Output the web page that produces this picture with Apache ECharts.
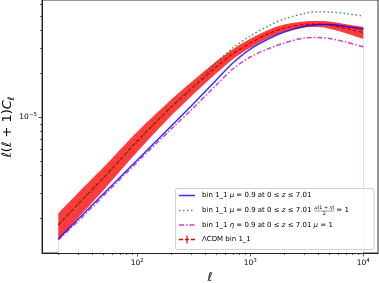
<!DOCTYPE html>
<html><head><meta charset="utf-8">
<script src="https://cdn.jsdelivr.net/npm/echarts@6/dist/echarts.min.js"></script>
<style>html,body{margin:0;padding:0;background:#fff}#c{width:379px;height:283px}</style>
</head><body><div id="c"></div>
<script>
// multipole values
const ell = [20, 30, 50, 100, 200, 300, 500, 700, 1000, 1500, 2000, 3000, 4000, 5000, 7000, 10000];
// bin 1_1 mu = 0.9 (blue)
const clMu = [1.440e-6, 1.979e-6, 2.944e-6, 5.050e-6, 8.667e-6, 1.191e-5, 1.799e-5, 2.357e-5, 2.943e-5, 3.505e-5, 3.855e-5, 4.207e-5, 4.343e-5, 4.343e-5, 4.207e-5, 4.042e-5];
// bin 1_1 mu = 0.9, mu(1+eta)/2 = 1 (green dotted)
const clMuEta = [1.799e-6, 2.511e-6, 3.795e-6, 6.721e-6, 1.172e-5, 1.585e-5, 2.357e-5, 2.990e-5, 3.617e-5, 4.308e-5, 4.739e-5, 5.173e-5, 5.323e-5, 5.296e-5, 5.173e-5, 4.971e-5];
// bin 1_1 eta = 0.9, mu = 1 (magenta dash-dot)
const clEta = [1.417e-6, 1.917e-6, 2.852e-6, 4.892e-6, 8.265e-6, 1.117e-5, 1.662e-5, 2.143e-5, 2.592e-5, 2.990e-5, 3.236e-5, 3.505e-5, 3.533e-5, 3.477e-5, 3.289e-5, 3.053e-5];
// LCDM bin 1_1 (red, with error bars)
const clLcdm = [1.799e-6, 2.511e-6, 3.795e-6, 6.829e-6, 1.172e-5, 1.560e-5, 2.211e-5, 2.719e-5, 3.236e-5, 3.795e-5, 4.107e-5, 4.343e-5, 4.377e-5, 4.308e-5, 4.075e-5, 3.825e-5];
const clLcdmErr = [3.66e-7, 4.92e-7, 6.83e-7, 1.079e-6, 1.477e-6, 1.732e-6, 2.10e-6, 2.148e-6, 2.30e-6, 2.39e-6, 2.30e-6, 2.08e-6, 2.10e-6, 2.41e-6, 2.89e-6, 3.63e-6];

// axis ranges and ticks
const X_MIN = 14.35, X_MAX = 13490, Y_MIN = 1.153e-6, Y_MAX = 6.41e-5;
const xMajorTicks = [100, 1000, 10000];
const xMinorTicks = [20, 30, 40, 50, 60, 70, 80, 90, 200, 300, 400, 500, 600, 700, 800, 900, 2000, 3000, 4000, 5000, 6000, 7000, 8000, 9000];
const yMajorTicks = [1e-5];
const yMinorTicks = [2e-6, 3e-6, 4e-6, 5e-6, 6e-6, 7e-6, 8e-6, 9e-6, 2e-5, 3e-5, 4e-5, 5e-5, 6e-5];

const legendLabels = [
  'bin 1_1 μ = 0.9 at 0 ≤ z ≤ 7.01',
  'bin 1_1 μ = 0.9 at 0 ≤ z ≤ 7.01',
  'bin 1_1 η = 0.9 at 0 ≤ z ≤ 7.01 μ = 1',
  'ΛCDM bin 1_1'
];

const FONT = '"DejaVu Sans", sans-serif';
const isPow10 = v => Math.abs(Math.log10(v) - Math.round(Math.log10(v))) < 1e-6;
const pts = arr => ell.map((l, i) => [l, arr[i]]);
const upperBand = ell.map((l, i) => [l, clLcdm[i] + clLcdmErr[i]]);
const lowerBand = ell.map((l, i) => [l, clLcdm[i] - clLcdmErr[i]]);

function tickSeries(values, axis, len) {
  return {
    type: 'custom', silent: true, z: 10, clip: false,
    data: values.map(v => axis === 'x' ? [v, Y_MIN] : [X_MIN, v]),
    encode: {x: 0, y: 1},
    renderItem: (params, api) => {
      const p = api.coord([api.value(0), api.value(1)]);
      const shape = axis === 'x'
        ? {x1: Math.round(p[0]) + 0.5, y1: p[1], x2: Math.round(p[0]) + 0.5, y2: p[1] + len}
        : {x1: p[0], y1: Math.round(p[1]) + 0.5, x2: p[0] - len, y2: Math.round(p[1]) + 0.5};
      return {type: 'line', shape, style: {stroke: '#333', lineWidth: 0.8}};
    }
  };
}

const chart = echarts.init(document.getElementById('c'), null, {renderer: 'canvas'});

// legend (drawn as graphic)
const ctx = document.createElement('canvas').getContext('2d');
function tw(s, size, italic) { ctx.font = (italic ? 'italic ' : '') + size + 'px "DejaVu Sans"'; return ctx.measureText(s).width; }
const LX = 175.5, LY = 188.5, LW = 198.5, LH = 61;
const rowY = [195.5, 210.5, 225, 239.5];
const hx1 = 179, hx2 = 195, tx = 202;
const fs = 7;
const rich = {
  n: {fontSize: fs, fontFamily: FONT, color: '#000'},
  i: {fontSize: fs, fontFamily: FONT, fontStyle: 'italic', color: '#000'}
};
function mathText(s) {
  return s.replace(/μ/g, '{i|μ}').replace(/η/g, '{i|η}').replace(/ z /g, ' {i|z} ');
}
const gEls = [];
// y-axis title
gEls.push({type: 'text', x: 8, y: 127, rotation: Math.PI / 2, style: {
  text: '{i|ℓ}({i|ℓ} + 1){i|C}{sub|ℓ}',
  rich: {
    i: {fontSize: 13, fontFamily: FONT, fontStyle: 'italic', color: '#000'},
    sub: {fontSize: 9, fontFamily: FONT, fontStyle: 'italic', color: '#000', verticalAlign: 'bottom', padding: [7, 0, 0, 0]}
  },
  fontSize: 13, fontFamily: FONT, fill: '#000', align: 'center', verticalAlign: 'middle'}});
gEls.push({type: 'rect', shape: {x: LX, y: LY, width: LW, height: LH, r: 2},
  style: {fill: 'rgba(255,255,255,0.8)', stroke: '#d0d0d0', lineWidth: 1}, z: 100});
const handleStyles = [
  {stroke: '#0000ff', lineWidth: 1.5, opacity: 0.8},
  {stroke: '#008000', lineWidth: 1.5, lineDash: [1.5, 2.5], opacity: 0.75},
  {stroke: '#bf00bf', lineWidth: 1.5, lineDash: [5, 2, 1.5, 2], opacity: 0.75},
  {stroke: '#ff0000', lineWidth: 1.5, lineDash: [4, 2]}
];
rowY.forEach((y, k) => {
  gEls.push({type: 'line', shape: {x1: hx1, y1: y, x2: hx2, y2: y}, style: handleStyles[k], z: 101});
  gEls.push({type: 'text', x: tx, y: y, style: {
    text: k === 3 ? 'ΛCDM bin 1_1' : mathText(legendLabels[k]), rich: rich,
    fontSize: fs, fontFamily: FONT, fill: '#000', verticalAlign: 'middle', align: 'left'}, z: 101});
});
// errorbar in red handle
gEls.push({type: 'line', shape: {x1: 187, y1: rowY[3] - 4, x2: 187, y2: rowY[3] + 4}, style: {stroke: '#ff0000', lineWidth: 1.2}, z: 101});
// fraction in row 2
(function () {
  const s = 'bin 1_1 μ = 0.9 at 0 ≤ z ≤ 7.01';
  const w = tw(s.replace(/μ|z/g, ''), fs, false) + tw('μ', fs, true) + tw('z', fs, true);
  const fx = tx + w + 3;
  const small = 4.8;
  const numW = tw('μ(1 + η)', small, false);
  gEls.push({type: 'text', x: fx + numW / 2, y: rowY[1] - 2.6, style: {text: '{i|μ}(1 + {i|η})', rich: {i: {fontStyle: 'italic', fontSize: small, fontFamily: FONT}}, fontSize: small, fontFamily: FONT, fill: '#000', align: 'center', verticalAlign: 'middle'}, z: 101});
  gEls.push({type: 'line', shape: {x1: fx, y1: rowY[1] + 0.5, x2: fx + numW, y2: rowY[1] + 0.5}, style: {stroke: '#000', lineWidth: 0.4}, z: 101});
  gEls.push({type: 'text', x: fx + numW / 2, y: rowY[1] + 3.6, style: {text: '2', fontSize: small, fontFamily: FONT, fill: '#000', align: 'center', verticalAlign: 'middle'}, z: 101});
  gEls.push({type: 'text', x: fx + numW + 2, y: rowY[1], style: {text: '= 1', fontSize: fs, fontFamily: FONT, fill: '#000', verticalAlign: 'middle', align: 'left'}, z: 101});
})();

const option = {
  animation: false,
  backgroundColor: '#fff',
  grid: {left: 42, top: 0, right: 1, bottom: 30, show: true, borderColor: '#333', borderWidth: 1, containLabel: false, outerBoundsMode: 'none'},
  xAxis: {
    type: 'log', logBase: 10, min: X_MIN, max: X_MAX, z: 10,
    axisLine: {show: true, lineStyle: {color: '#222', width: 1}},
    axisTick: {show: false}, minorTick: {show: false},
    splitLine: {show: false},
    axisLabel: {
      margin: 5, showMinLabel: false, showMaxLabel: false,
      formatter: v => isPow10(v) ? '{b|10}{s|' + Math.round(Math.log10(v)) + '}' : '',
      rich: {b: {fontSize: 7.5, fontFamily: FONT, color: '#000'}, s: {fontSize: 5.5, fontFamily: FONT, color: '#000', verticalAlign: 'top', padding: [0, 0, 4, 0]}}
    },
    name: '{i|ℓ}', nameLocation: 'middle', nameGap: 15,
    nameTextStyle: {rich: {i: {fontSize: 12, fontFamily: FONT, fontStyle: 'italic', color: '#000'}}}
  },
  yAxis: {
    type: 'log', logBase: 10, min: Y_MIN, max: Y_MAX, z: 10,
    axisLine: {show: true, lineStyle: {color: '#222', width: 1}},
    axisTick: {show: false}, minorTick: {show: false},
    splitLine: {show: false},
    axisLabel: {
      margin: 5, showMinLabel: false, showMaxLabel: false,
      formatter: v => isPow10(v) ? '{b|10}{s|−' + Math.abs(Math.round(Math.log10(v))) + '}' : '',
      rich: {b: {fontSize: 7.5, fontFamily: FONT, color: '#000'}, s: {fontSize: 5.5, fontFamily: FONT, color: '#000', verticalAlign: 'top', padding: [0, 0, 4, 0]}}
    }
  },
  graphic: {elements: gEls},
  series: [
    {type: 'line', name: 'bandUpper', z: 1, data: upperBand, showSymbol: false, smooth: 0.3, silent: true,
      lineStyle: {width: 0}, areaStyle: {color: '#ff2020', opacity: 0.88}},
    {type: 'line', name: 'bandLower', z: 1, data: lowerBand, showSymbol: false, smooth: 0.3, silent: true,
      lineStyle: {width: 0}, areaStyle: {color: '#ffffff', opacity: 1}},
    {type: 'line', name: 'lcdm', z: 3, data: pts(clLcdm), showSymbol: false, smooth: 0.3,
      lineStyle: {color: '#cc0000', width: 1.2, type: [4, 2]}},
    {type: 'line', name: 'mu', z: 4, data: pts(clMu), showSymbol: false, smooth: 0.3,
      lineStyle: {color: '#0000ff', width: 1.5, opacity: 0.8}},
    {type: 'line', name: 'mueta', z: 5, data: pts(clMuEta), showSymbol: false, smooth: 0.3,
      lineStyle: {color: '#008000', width: 1.5, type: [1.5, 2.5], opacity: 0.75}},
    {type: 'line', name: 'eta', z: 5, data: pts(clEta), showSymbol: false, smooth: 0.3,
      lineStyle: {color: '#bf00bf', width: 1.5, type: [5, 2, 1.5, 2], opacity: 0.75}},
    tickSeries(xMajorTicks, 'x', 3.5),
    tickSeries(xMinorTicks, 'x', 2),
    tickSeries(yMajorTicks, 'y', 3.5),
    tickSeries(yMinorTicks, 'y', 2)
  ]
};
chart.setOption(option);
</script>
</body></html>
